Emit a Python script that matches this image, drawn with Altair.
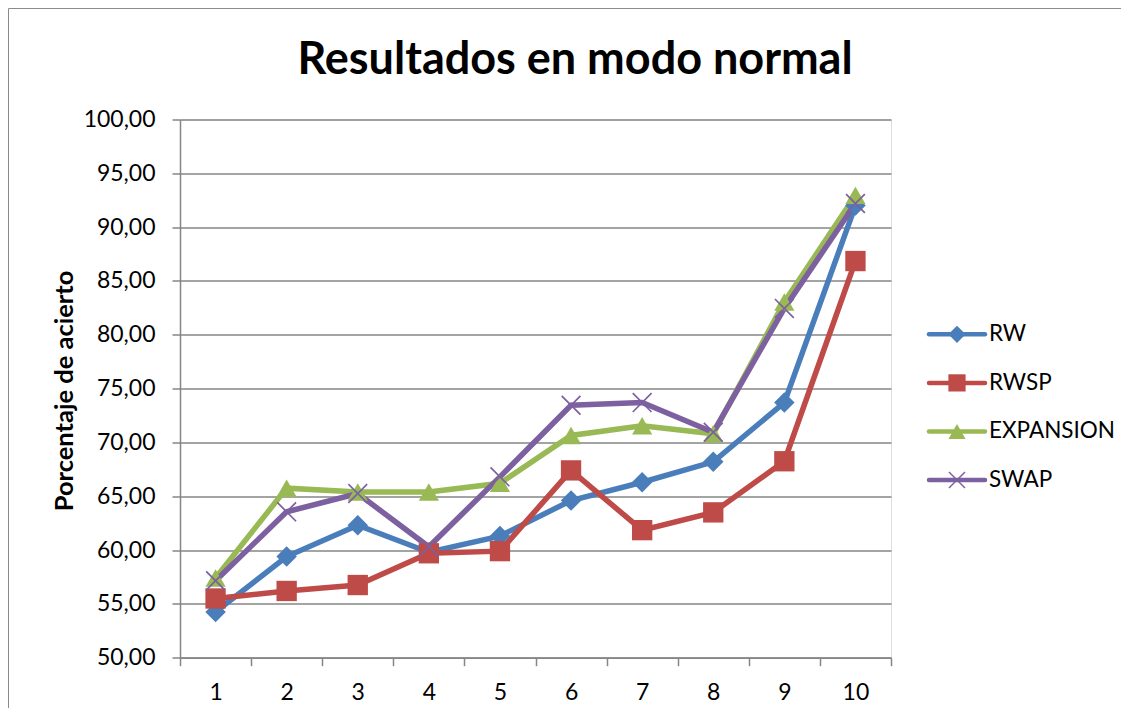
import altair as alt
import pandas as pd

# ---- data ----
x_vals = [1, 2, 3, 4, 5, 6, 7, 8, 9, 10]
series_names = ["RW", "RWSP", "EXPANSION", "SWAP"]
rw = [54.25, 59.4, 62.3, 59.8, 61.3, 64.6, 66.3, 68.2, 73.7, 92.0]
rwsp = [55.5, 56.2, 56.75, 59.7, 59.9, 67.4, 61.85, 63.5, 68.25, 86.85]
expansion = [57.4, 65.75, 65.4, 65.4, 66.2, 70.65, 71.55, 70.8, 83.05, 92.95]
swap = [57.15, 63.55, 65.25, 60.3, 66.8, 73.45, 73.7, 70.95, 82.45, 92.2]
y_ticks = [50, 55, 60, 65, 70, 75, 80, 85, 90, 95, 100]

series_values = [rw, rwsp, expansion, swap]
rows = []
for name, vals in zip(series_names, series_values):
    for xv, v in zip(x_vals, vals):
        rows.append({"x": xv, "value": v, "series": name})
df = pd.DataFrame(rows)
legend_df = pd.DataFrame({"series": series_names})

colors = ["#4A7EBB", "#BE4B48", "#98B954", "#7D60A0"]
GRAY = "#868686"
FONT = "Lato"

# thin "X" marker (Excel style)
X_PATH = "M-0.88,-1L1,0.88L0.88,1L-1,-0.88ZM0.88,-1L1,-0.88L-0.88,1L-1,0.88Z"

color_scale = alt.Scale(domain=series_names, range=colors)
shape_scale = alt.Scale(domain=series_names, range=["diamond", "square", "triangle-up", X_PATH])
size_scale = alt.Scale(domain=series_names, range=[420, 400, 440, 324])
leg_size_scale = alt.Scale(domain=series_names, range=[300, 290, 340, 270])
leg_y_scale = alt.Scale(type="point", domain=series_names, range=[214.8, 360.6], padding=0)

x_tick_vals = [v / 2 for v in range(1, 22)]

x_enc = alt.X(
    "x:Q",
    scale=alt.Scale(domain=[0.5, 10.5], nice=False, zero=False),
    axis=alt.Axis(
        values=x_tick_vals,
        labelExpr="datum.value % 1 == 0 ? format(datum.value, 'd') : ''",
        labelOverlap=False,
        grid=False,
        tickSize=8,
        tickWidth=1.5,
        tickColor={"condition": {"test": "datum.value % 1 == 0", "value": "transparent"}, "value": GRAY},
        domainColor=GRAY,
        domainWidth=1.5,
        labelFont=FONT,
        labelFontSize=23,
        labelColor="black",
        labelPadding=16,
    ),
    title=None,
)
y_enc = alt.Y(
    "value:Q",
    scale=alt.Scale(domain=[50, 100], nice=False, zero=False),
    axis=alt.Axis(
        values=y_ticks,
        labelExpr="replace(format(datum.value, '.2f'), '.', ',')",
        grid=True,
        gridColor=GRAY,
        gridWidth=1.5,
        tickSize=8,
        tickWidth=1.5,
        tickColor=GRAY,
        domainColor=GRAY,
        domainWidth=1.5,
        labelFont=FONT,
        labelFontSize=23,
        labelColor="black",
        labelPadding=17,
        titleFont=FONT,
        titleFontSize=25.5,
        titleFontWeight="bold",
        titleColor="black",
        titleX=-116,
        titleY=271,
        titleBaseline="middle",
    ),
    title="Porcentaje de acierto",
)

frame = alt.Chart(alt.Data(values=[{"f": 1}])).mark_rect(
    fill="transparent", stroke="#8A8A8A", strokeWidth=1
).encode(
    x=alt.value(-171.5), y=alt.value(-111), x2=alt.value(1200), y2=alt.value(900)
)

base = alt.Chart(df)
lines = base.mark_line(strokeWidth=5.5).encode(
    x=x_enc,
    y=y_enc,
    stroke=alt.Stroke("series:N", scale=color_scale, legend=None),
)
points = base.mark_point(filled=True, opacity=1, strokeWidth=0).encode(
    x=x_enc,
    y=y_enc,
    color=alt.Color("series:N", scale=color_scale, legend=None),
    shape=alt.Shape("series:N", scale=shape_scale, legend=None),
    size=alt.Size("series:N", scale=size_scale, legend=None),
)
plot = alt.layer(frame, lines, points)

# ---- legend built from the series list ----
leg_base = alt.Chart(legend_df)
leg_y = alt.Y("series:N", scale=leg_y_scale, axis=None)
leg_lines = leg_base.mark_rule(strokeWidth=4.5, strokeCap="round").encode(
    x=alt.value(749),
    x2=alt.value(805),
    y=leg_y,
    color=alt.Color("series:N", scale=color_scale, legend=None),
)
leg_marks = leg_base.mark_point(filled=True, opacity=1, strokeWidth=0).encode(
    x=alt.value(777),
    y=leg_y,
    color=alt.Color("series:N", scale=color_scale, legend=None),
    shape=alt.Shape("series:N", scale=shape_scale, legend=None),
    size=alt.Size("series:N", scale=leg_size_scale, legend=None),
)
leg_text = leg_base.mark_text(
    align="left", baseline="middle", font=FONT, fontSize=22.5, color="black"
).encode(
    x=alt.value(809),
    y=leg_y,
    text="series:N",
)
legend = alt.layer(leg_lines, leg_marks, leg_text)

chart = alt.layer(plot, legend).resolve_scale(
    x="independent", y="independent", size="independent"
).properties(
    width=711,
    height=538.2,
    autosize=alt.AutoSizeParams(type="none"),
    padding={"left": 172, "top": 111.5, "right": 230, "bottom": 50},
    title=alt.TitleParams(
        "Resultados en modo normal",
        font=FONT,
        fontSize=45,
        fontWeight="bold",
        color="black",
        anchor="middle",
        frame="group",
        dx=39.5,
        baseline="alphabetic",
        offset=-111,
    ),
).configure_view(strokeWidth=0).configure(font=FONT)

chart.save("out.html", embed_options={"renderer": "svg", "actions": False})
